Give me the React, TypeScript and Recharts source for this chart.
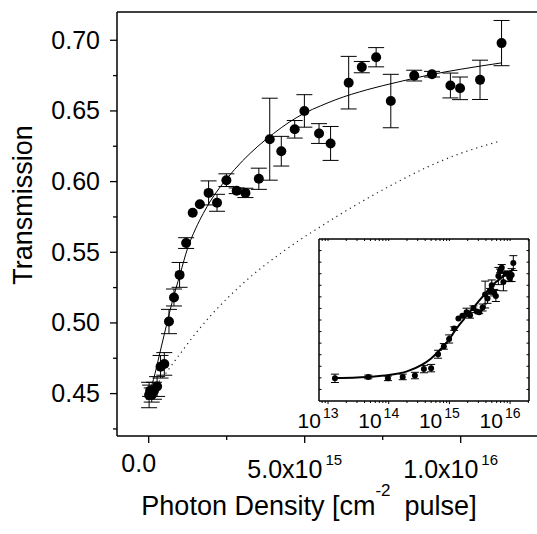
import React from 'react'
import { ComposedChart, Scatter, Line, XAxis, YAxis, ErrorBar, Label } from 'recharts'

const FONT = 'Liberation Sans, Arial, sans-serif'

// photon density in units of 1e15 cm^-2 per pulse
const density = [0.013, 0.046, 0.097, 0.17, 0.27, 0.38, 0.5, 0.65, 0.81, 0.99, 1.2, 1.41, 1.64, 1.92, 2.19, 2.49, 2.82, 3.1, 3.53, 3.88, 4.25, 4.68, 4.99, 5.46, 5.83, 6.41, 6.83, 7.29, 7.76, 8.51, 9.08, 9.67, 9.98, 10.62, 11.31]
const transmission = [0.449, 0.452, 0.449, 0.452, 0.455, 0.469, 0.471, 0.501, 0.518, 0.534, 0.5565, 0.578, 0.584, 0.592, 0.585, 0.601, 0.5935, 0.592, 0.602, 0.63, 0.6215, 0.637, 0.65, 0.634, 0.627, 0.67, 0.681, 0.688, 0.657, 0.675, 0.676, 0.668, 0.666, 0.672, 0.698]
const errors = [0.009, 0.004, 0.005, 0.006, 0.007, 0.008, 0.008, 0.0086, 0.006, 0.0088, 0.0038, 0, 0, 0.0085, 0.006, 0.0045, 0.002, 0.0033, 0.0075, 0.029, 0.0105, 0.0062, 0.0115, 0.007, 0.012, 0.0186, 0.004, 0.0068, 0.0189, 0.0038, 0.002, 0.0088, 0.008, 0.0139, 0.016]

// fitted curve (solid)
const fitX = [0.013, 0.03, 0.05, 0.1, 0.2, 0.35, 0.5, 0.75, 1.0, 1.25, 1.5, 1.75, 2.0, 2.25, 2.5, 3.0, 3.5, 4.0, 4.5, 5.0, 5.5, 6.0, 7.0, 8.0, 9.0, 10.0, 11.31]
const fitY = [0.4495, 0.4508, 0.4523, 0.456, 0.464, 0.478, 0.492, 0.5145, 0.534, 0.553, 0.5665, 0.5775, 0.587, 0.595, 0.602, 0.6145, 0.625, 0.634, 0.642, 0.6485, 0.6535, 0.658, 0.665, 0.6705, 0.6755, 0.6795, 0.684]

// second model curve (dotted)
const modelX = [0.013, 0.25, 0.5, 0.75, 1.0, 1.5, 2.0, 2.5, 3.0, 3.5, 4.0, 4.5, 5.0, 5.5, 6.0, 7.0, 8.0, 9.0, 10.0, 11.26]
const modelY = [0.45, 0.4565, 0.463, 0.4705, 0.478, 0.4925, 0.5055, 0.517, 0.5275, 0.537, 0.5455, 0.5535, 0.561, 0.568, 0.575, 0.588, 0.6, 0.611, 0.62, 0.6286]

const mainXTicks = [0, 2.5, 5, 7.5, 10]
const mainXLabels: Record<number, [string, string]> = { 0: ['0.0', ''], 5: ['5.0x10', '15'], 10: ['1.0x10', '16'] }
const mainYTicks = [0.425, 0.45, 0.475, 0.5, 0.525, 0.55, 0.575, 0.6, 0.625, 0.65, 0.675, 0.7]
const insetDecades = [13, 14, 15, 16]
const insetMinor = [2, 3, 4, 5, 6, 7, 8, 9]
const insetYTicks = [0.425, 0.45, 0.475, 0.5, 0.525, 0.55, 0.575, 0.6, 0.625, 0.65, 0.675, 0.7, 0.725]

const points = density.map((x, i) => ({ x, y: transmission[i], err: errors[i] }))
const fit = fitX.map((x, i) => ({ x, y: fitY[i] }))
const model = modelX.map((x, i) => ({ x, y: modelY[i] }))
const insetPoints = points.map(p => ({ ...p, x: p.x * 1e15 }))
const insetFit = fit.map(p => ({ ...p, x: p.x * 1e15 }))

const insetXTicks = [8e12, 9e12]
insetDecades.forEach(d => {
  insetXTicks.push(Math.pow(10, d))
  if (d < 16) insetMinor.forEach(m => insetXTicks.push(m * Math.pow(10, d)))
})
insetXTicks.push(2e16)

const MAIN_X_DOMAIN = [-1.016, 12.446]
const INSET_X_DOMAIN = [7.1e12, 2.05e16]
const AXIS = { stroke: '#000', strokeWidth: 1.5 }

function MainXTick(props: any) {
  const { x, y, payload } = props
  const lbl = mainXLabels[payload.value]
  return (
    <g>
      <line x1={x} x2={x} y1={y} y2={y + (lbl ? 7 : 4)} stroke="#000" strokeWidth={1.3} />
      {lbl && !lbl[1] && (
        <text x={x - 10} y={y + 36} textAnchor="middle" fontSize={25} fontFamily={FONT} fill="#000">{lbl[0]}</text>
      )}
      {lbl && lbl[1] && (
        <text x={x - 10} y={y + 42} textAnchor="middle" fontSize={25} fontFamily={FONT} fill="#000">
          {lbl[0]}
          <tspan dx={3} dy={-13} fontSize={15}>{lbl[1]}</tspan>
        </text>
      )}
    </g>
  )
}

function MainYTick(props: any) {
  const { x, y, payload } = props
  const v = payload.value
  const major = Math.abs(v * 20 - Math.round(v * 20)) < 1e-6
  return (
    <g>
      <line x1={x - (major ? 7 : 4)} x2={x} y1={y} y2={y} stroke="#000" strokeWidth={1.3} />
      {major && (
        <text x={x - 17} y={y + 8.5} textAnchor="end" fontSize={25} fontFamily={FONT} fill="#000">{v.toFixed(2)}</text>
      )}
    </g>
  )
}

function InsetXTick(props: any) {
  const { x, y, payload } = props
  const lg = Math.log10(payload.value)
  const major = Math.abs(lg - Math.round(lg)) < 1e-6
  return (
    <g>
      <line x1={x} x2={x} y1={y} y2={y + (major ? 3 : 2)} stroke="#000" strokeWidth={1} />
      {major && (
        <text x={x - 10} y={y + 27} textAnchor="middle" fontSize={21} fontFamily={FONT} fill="#000">
          10
          <tspan dx={2} dy={-10} fontSize={14}>{Math.round(lg)}</tspan>
        </text>
      )}
    </g>
  )
}

function InsetTopTick(props: any) {
  const { x, y } = props
  return <line x1={x} x2={x} y1={y} y2={y + 2} stroke="#000" strokeWidth={1} />
}

function InsetLeftTick(props: any) {
  const { x, y } = props
  return <line x1={x} x2={x + 2.5} y1={y} y2={y} stroke="#000" strokeWidth={1} />
}

function InsetRightTick(props: any) {
  const { x, y } = props
  return <line x1={x} x2={x - 2.5} y1={y} y2={y} stroke="#000" strokeWidth={1} />
}

function XTitle(props: any) {
  const vb = props.viewBox
  return (
    <text x={vb.x + 192} y={vb.y + 79} textAnchor="middle" fontSize={27} fontFamily={FONT} fill="#000">
      Photon Density [cm
      <tspan dy={-19} fontSize={17}>-2</tspan>
      <tspan dx={14} dy={19}>pulse]</tspan>
    </text>
  )
}

function YTitle(props: any) {
  const vb = props.viewBox
  const cx = vb.x + 32
  const cy = vb.y + 193
  return (
    <text x={cx} y={cy} textAnchor="middle" fontSize={27} fontFamily={FONT} fill="#000" transform={`rotate(-90 ${cx} ${cy})`}>
      Transmission
    </text>
  )
}

const bigDot = (p: any) => <circle cx={p.cx} cy={p.cy} r={5} fill="#000" />
const smallDot = (p: any) => <circle cx={p.cx} cy={p.cy} r={3} fill="#000" />

export default function App() {
  return (
    <div style={{ position: 'absolute', left: 0, top: 0, width: 537, height: 534, background: '#fff', overflow: 'hidden' }}>
      <ComposedChart width={537} height={534} margin={{ top: 11, right: 0, left: 0, bottom: 0 }}>
        <XAxis
          xAxisId="b" type="number" dataKey="x" domain={MAIN_X_DOMAIN} allowDataOverflow
          ticks={mainXTicks} interval={0} height={98} tickLine={false} tickSize={0} tickMargin={0}
          tick={<MainXTick />} axisLine={AXIS}
        >
          <Label content={<XTitle />} />
        </XAxis>
        <XAxis
          xAxisId="t" orientation="top" type="number" dataKey="x" domain={MAIN_X_DOMAIN} allowDataOverflow
          height={1} tick={false} tickLine={false} axisLine={AXIS}
        />
        <YAxis
          type="number" dataKey="y" domain={[0.42, 0.72]} allowDataOverflow ticks={mainYTicks} interval={0}
          width={117} tickLine={false} tickSize={0} tickMargin={0} tick={<MainYTick />}
          axisLine={AXIS}
        >
          <Label content={<YTitle />} />
        </YAxis>
        <Line xAxisId="b" data={model} dataKey="y" type="monotone" stroke="#222" strokeWidth={1.2} strokeDasharray="1.2 4" dot={false} isAnimationActive={false} />
        <Line xAxisId="b" data={fit} dataKey="y" type="monotone" stroke="#000" strokeWidth={1} dot={false} isAnimationActive={false} />
        <Scatter xAxisId="b" data={points} dataKey="y" shape={bigDot} isAnimationActive={false}>
          <ErrorBar dataKey="err" direction="y" width={8} stroke="#000" strokeWidth={1} />
        </Scatter>
      </ComposedChart>

      <div style={{ position: 'absolute', left: 290, top: 230 }}>
        <ComposedChart width={247} height={210} margin={{ top: 8, right: 7, left: 28, bottom: 0 }}>
          <XAxis
            xAxisId="b" type="number" dataKey="x" scale="log" domain={INSET_X_DOMAIN} allowDataOverflow
            ticks={insetXTicks} interval={0} height={39} tickLine={false} tickSize={0} tickMargin={0}
            tick={<InsetXTick />} axisLine={AXIS}
          />
          <XAxis
            xAxisId="t" orientation="top" type="number" dataKey="x" scale="log" domain={INSET_X_DOMAIN} allowDataOverflow
            ticks={insetXTicks} interval={0} height={1} tickLine={false} tickSize={0} tickMargin={0}
            tick={<InsetTopTick />} axisLine={AXIS}
          />
          <YAxis
            yAxisId="l" type="number" dataKey="y" domain={[0.4, 0.75]} allowDataOverflow ticks={insetYTicks} interval={0}
            width={1} tickLine={false} tickSize={0} tickMargin={0} tick={<InsetLeftTick />}
            axisLine={AXIS}
          />
          <YAxis
            yAxisId="r" orientation="right" type="number" dataKey="y" domain={[0.4, 0.75]} allowDataOverflow ticks={insetYTicks} interval={0}
            width={1} tickLine={false} tickSize={0} tickMargin={0} tick={<InsetRightTick />}
            axisLine={AXIS}
          />
          <Line xAxisId="b" yAxisId="l" data={insetFit} dataKey="y" type="monotone" stroke="#000" strokeWidth={2} dot={false} isAnimationActive={false} />
          <Scatter xAxisId="b" yAxisId="l" data={insetPoints} dataKey="y" shape={smallDot} isAnimationActive={false}>
            <ErrorBar dataKey="err" direction="y" width={4} stroke="#000" strokeWidth={1} />
          </Scatter>
        </ComposedChart>
      </div>
    </div>
  )
}
